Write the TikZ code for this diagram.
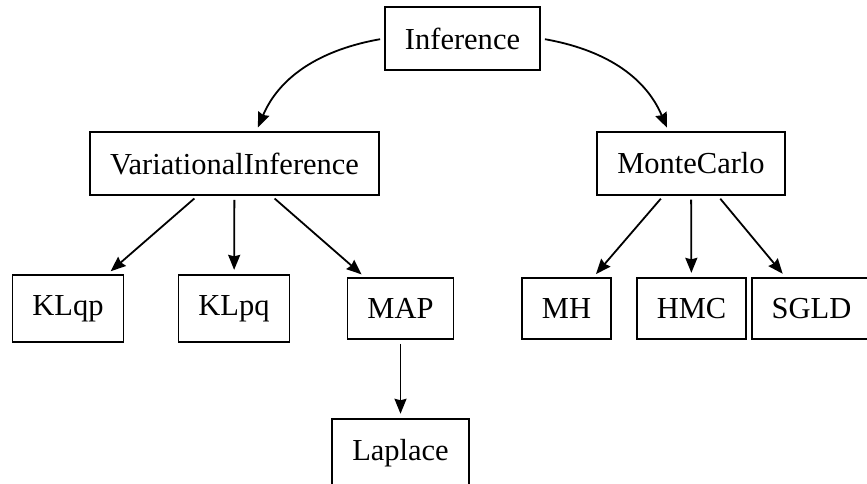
\documentclass[tikz,border=0pt]{standalone}
\usepackage{fontspec}
\setmainfont{Liberation Serif}
\usetikzlibrary{arrows.meta}
\begin{document}
\begin{tikzpicture}[x=1pt,y=-1pt,
  box/.style={draw, line width=1.8pt, inner xsep=20pt, inner ysep=20.5pt,
    font=\fontsize{30.5}{36}\selectfont},
  link/.style={line width=1.8pt, -{Stealth[length=15pt,width=12pt,inset=1.5pt]},
    shorten >=4pt, shorten <=4pt}]
\useasboundingbox (0,0) rectangle (867,484);
\node[box] (inf) at (462.5,38.5) {Inference};
\node[box] (vi) at (234.5,163.5) {VariationalInference};
\node[box] (mc) at (691,163.5) {MonteCarlo};
\node[box] (klqp) at (68,308.5) {KLqp};
\node[box] (klpq) at (234,308.5) {KLpq};
\node[box] (map) at (400.5,308.5) {MAP};
\node[box] (mh) at (566.5,308.5) {MH};
\node[box] (hmc) at (691.5,308.5) {HMC};
\node[box] (sgld) at (811.5,308.5) {SGLD};
\node[box] (lap) at (400.5,453) {Laplace};
\draw[link] (inf.west) to[out=190,in=67] (vi.56);
\draw[link] (inf.east) to[out=-10,in=113] (mc.125);
\draw[link] (vi) -- (klqp);
\draw[link] (vi) -- (klpq);
\draw[link] (vi) -- (map);
\draw[link] (mc) -- (mh);
\draw[link] (mc) -- (hmc);
\draw[link] (mc) -- (sgld);
\draw[link] (map) -- (lap);
\end{tikzpicture}
\end{document}
